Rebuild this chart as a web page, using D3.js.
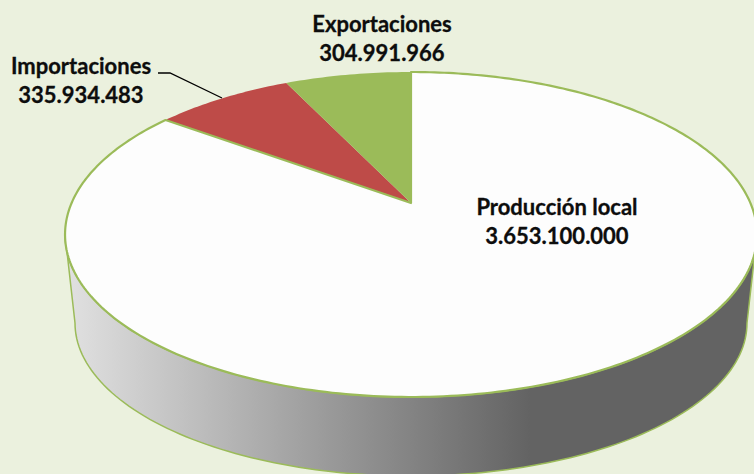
<!DOCTYPE html>
<html>
<head>
<meta charset="utf-8">
<script src="https://cdn.jsdelivr.net/npm/d3@7"></script>
<style>
html, body { margin: 0; padding: 0; background: #ebf1de; overflow: hidden; }
svg { display: block; }
text { font-family: Lato, sans-serif; font-weight: 700; font-size: 22px; fill: #0d0d0d; stroke: #0d0d0d; stroke-width: 0.3px; }
</style>
</head>
<body>
<div id="chart"></div>
<script>
const categories = ["Producción local", "Importaciones", "Exportaciones"];
const values = [3653100000, 335934483, 304991966];
const sliceColors = ["#fdfdfd", "#be4b48", "#9bbb59"];

const width = 754, height = 474;
const rimGreen = "#9bbb59";

// perspective of the top face: k tilts the disc, apex is not the ellipse center
const cx = 411, apexY = 203, k = 0.1938, R = 339.4, S = 156.4;
// lower edge of the wall
const bottom = {cy: 323, rx: 336, ry: 153};

function project(angle, r) {
  const u = r * Math.sin(angle), v = r * Math.cos(angle), w = 1 + k * v;
  return [cx + R * u / w, apexY - S * v / w];
}

const fmt = d3.formatLocale({decimal: ",", thousands: ".", grouping: [3], currency: ["", ""]}).format(",d");
const line = d3.line();
const pie = d3.pie().sort(null)(values);

const svg = d3.select("#chart").append("svg").attr("width", width).attr("height", height);

const grad = svg.append("defs").append("linearGradient")
    .attr("id", "wall").attr("gradientUnits", "userSpaceOnUse")
    .attr("x1", 70).attr("x2", 530).attr("y1", 0).attr("y2", 0);
grad.append("stop").attr("offset", 0).attr("stop-color", "#e0e0e0");
grad.append("stop").attr("offset", 1).attr("stop-color", "#636363");

// side wall, front half of the rim down to the lower edge
const a1 = Math.acos(-k), a2 = 2 * Math.PI - a1;
const wallTop = d3.range(0, 121).map(i => project(a1 + (a2 - a1) * i / 120, 1));
const wallBottom = d3.range(0, 121).map(i => {
  const t = Math.PI - Math.PI * i / 120;
  return [cx + bottom.rx * Math.cos(t), bottom.cy + bottom.ry * Math.sin(t)];
});
svg.append("path")
    .attr("d", line(wallTop.concat(wallBottom)) + "Z")
    .attr("fill", "url(#wall)")
    .attr("stroke", rimGreen).attr("stroke-width", 1.5);

// top face, big slice last so its green edge stays on top
const order = [1, 2, 0];
svg.selectAll("path.slice").data(order.map(i => pie[i])).join("path")
    .attr("class", "slice")
    .attr("d", d => {
      const n = Math.ceil((d.endAngle - d.startAngle) * 60);
      const pts = d3.range(0, n + 1).map(i => project(d.startAngle + (d.endAngle - d.startAngle) * i / n, 1));
      return line([project(0, 0)].concat(pts)) + "Z";
    })
    .attr("fill", d => sliceColors[d.index])
    .attr("stroke", d => d.index === 0 ? rimGreen : "none")
    .attr("stroke-width", 2.2)
    .attr("stroke-linejoin", "round");

// leader for Importaciones
svg.append("path")
    .attr("d", line([[158, 73], [170, 73], [222, 98]]))
    .attr("fill", "none").attr("stroke", "#000").attr("stroke-width", 1.3);

const labelPos = [
  {x: 557, y1: 215, y2: 244},
  {x: 81, y1: 74, y2: 103},
  {x: 382, y1: 32, y2: 61}
];
const labels = svg.selectAll("g.label").data(categories).join("g").attr("class", "label");
labels.append("text")
    .attr("x", (d, i) => labelPos[i].x).attr("y", (d, i) => labelPos[i].y1)
    .attr("text-anchor", "middle").text(d => d);
labels.append("text")
    .attr("x", (d, i) => labelPos[i].x).attr("y", (d, i) => labelPos[i].y2)
    .attr("text-anchor", "middle").text((d, i) => fmt(values[i]));
</script>
</body>
</html>
